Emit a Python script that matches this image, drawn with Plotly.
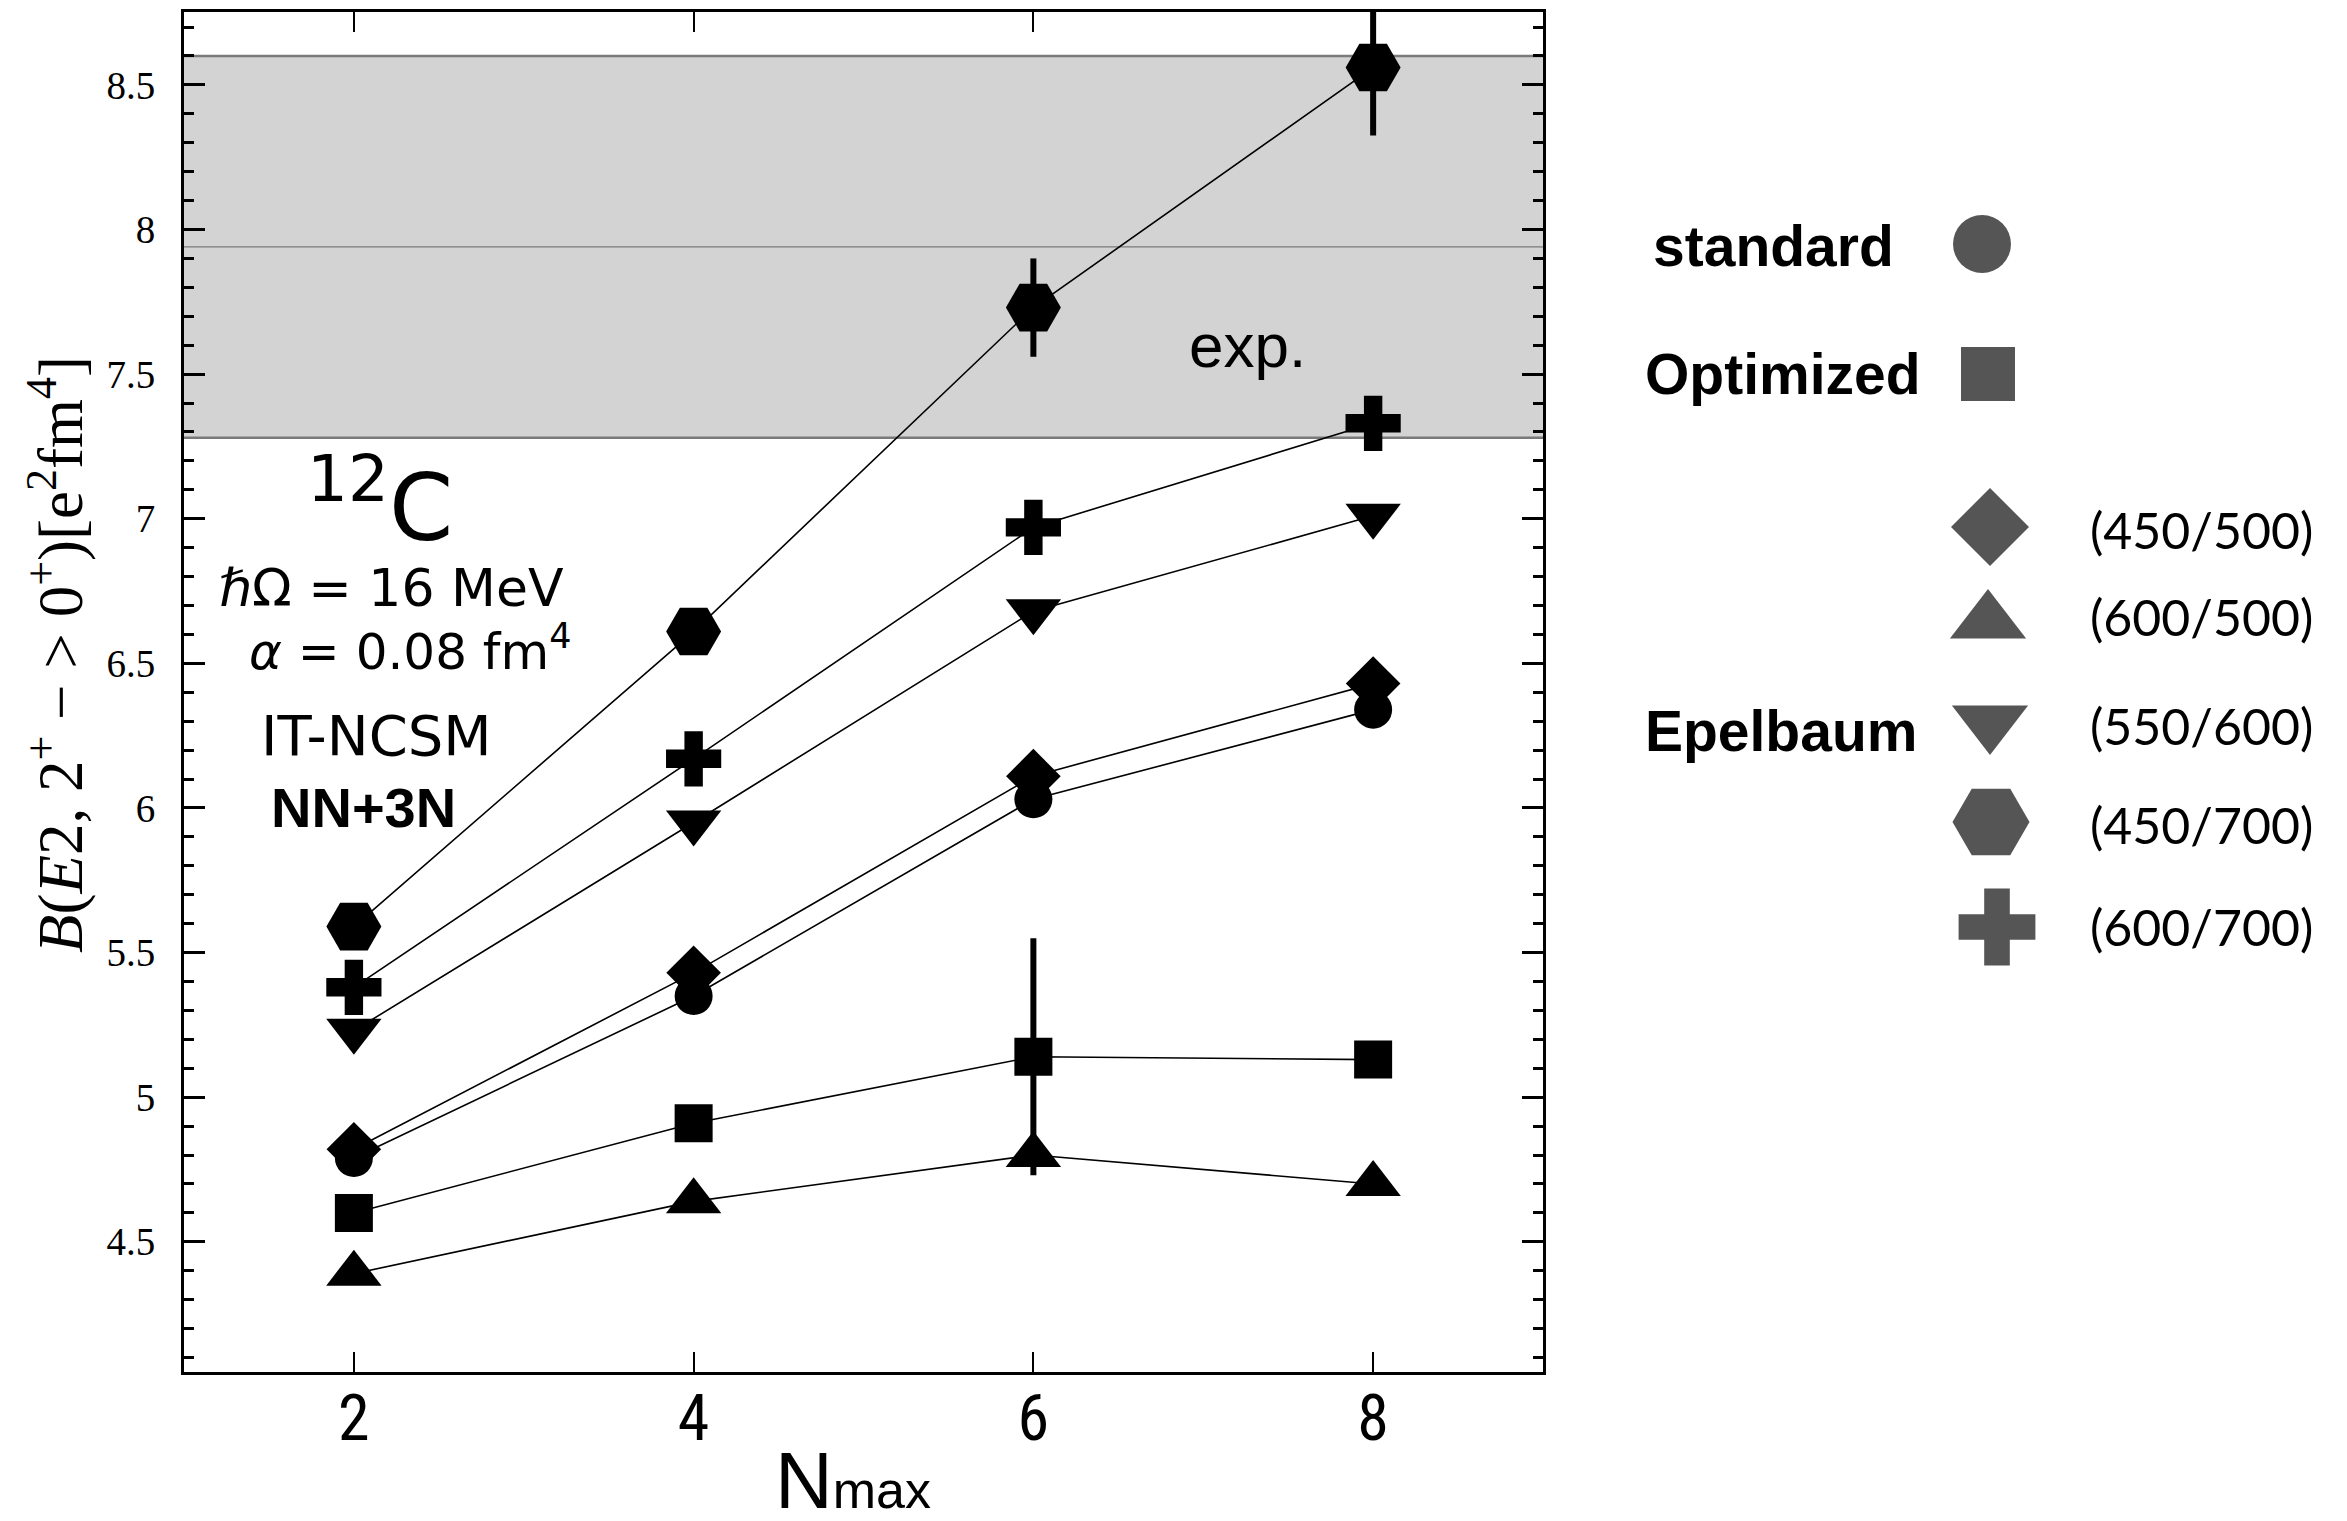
import plotly.graph_objects as go

# N_max truncation values
nmax = [2, 4, 6, 8]

# B(E2; 2+ -> 0+) in e^2 fm^4 for each interaction
standard = [4.79, 5.35, 6.03, 6.34]
optimized = [4.60, 4.91, 5.14, 5.13]
epel_450_500 = [4.82, 5.43, 6.11, 6.43]
epel_600_500 = [4.39, 4.64, 4.80, 4.70]
epel_550_600 = [5.23, 5.95, 6.68, 7.01]
epel_450_700 = [5.59, 6.61, 7.73, 8.56]
epel_600_700 = [5.38, 6.17, 6.97, 7.33]

# extrapolation uncertainties (zero where none is shown)
err_optimized = [0, 0, 0.41, 0]
err_450_700 = [0, 0, 0.17, 0.235]

# experimental value and its uncertainty
exp_value = 7.94
exp_error = 0.66

legend_groups = ["standard", "Optimized", "Epelbaum"]
epel_labels = ["(450/500)", "(600/500)", "(550/600)", "(450/700)", "(600/700)"]

W, H = 2347, 1521
ML, MR, MT, MB = 184, 0, 12, 149
plot_w = W - ML - MR
main_frac = 1359 / plot_w

fig = go.Figure()

# experimental band
fig.add_shape(type="rect", xref="x", yref="y", x0=1, x1=9,
              y0=exp_value - exp_error, y1=exp_value + exp_error,
              fillcolor="#d3d3d3", line_width=0, layer="below")
for yv, w in [(exp_value - exp_error, 2.4), (exp_value + exp_error, 2.4), (exp_value, 1.4)]:
    fig.add_shape(type="line", xref="x", yref="y", x0=1, x1=9, y0=yv, y1=yv,
                  line=dict(color="#7a7a7a", width=w), layer="below")

series = [
    (optimized, "square", 38, err_optimized),
    (epel_600_500, "triangle-up", 48, None),
    (standard, "circle", 38, None),
    (epel_450_500, "diamond", 42, None),
    (epel_550_600, "triangle-down", 48, None),
    (epel_600_700, "cross", 46, None),
    (epel_450_700, "hexagon2", 55, err_450_700),
]
for vals, sym, size, err in series:
    tr = go.Scatter(x=nmax, y=vals, mode="lines+markers",
                    line=dict(color="black", width=1.6),
                    marker=dict(symbol=sym, size=size, color="black", line_width=0),
                    showlegend=False, xaxis="x", yaxis="y")
    if err is not None:
        tr.error_y = dict(type="data", array=err, visible=True, thickness=6,
                          width=0, color="black")
    fig.add_trace(tr)

# hand-built key on an auxiliary pixel-scaled axis pair
key_markers = [
    ("circle", 58, 1982, 244),
    ("square", 54, 1988, 374),
    ("diamond", 60, 1990, 527),
    ("triangle-up", 66, 1988, 622),
    ("triangle-down", 66, 1990, 722),
    ("hexagon2", 77, 1991, 822),
    ("cross", 64, 1997, 927),
]
for sym, size, kx, ky in key_markers:
    fig.add_trace(go.Scatter(x=[kx], y=[ky], mode="markers",
                             marker=dict(symbol=sym, size=size, color="#555555", line_width=0),
                             showlegend=False, xaxis="x2", yaxis="y2", hoverinfo="skip"))

annotations = []
for txt, kx, ky in zip(legend_groups, [1651, 1643, 1643], [246, 374, 731]):
    annotations.append(dict(text=f"<b>{txt}</b>", x=kx, y=ky, xref="x2", yref="y2",
                            xanchor="left", yanchor="middle", showarrow=False,
                            font=dict(family="Liberation Sans, Arial", size=57, color="black")))
for txt, ky in zip(epel_labels, [530, 617, 726, 825, 927]):
    annotations.append(dict(text=txt, x=2088, y=ky, xref="x2", yref="y2",
                            xanchor="left", yanchor="middle", showarrow=False,
                            font=dict(family="Lato, Open Sans", size=50, color="black")))

# in-plot labels
math_font = "DejaVu Sans"
annotations += [
    dict(text="<sup>12</sup>C", x=2.154, y=7.06, font=dict(family=math_font, size=92)),
    dict(text="<i>ℏ</i>Ω = 16 MeV", x=2.224, y=6.76, font=dict(family=math_font, size=52)),
    dict(text="<i>α</i> = 0.08 fm<sup>4</sup>", x=2.33, y=6.55, font=dict(family=math_font, size=50)),
    dict(text="IT-NCSM", x=2.136, y=6.25, font=dict(family=math_font, size=56)),
    dict(text="<b>NN+3N</b>", x=2.054, y=6.0, font=dict(family="Liberation Sans, Arial", size=56)),
    dict(text="exp.", x=7.26, y=7.60, font=dict(family="Liberation Sans, Arial", size=62)),
]
for a in annotations[-6:]:
    a.update(xref="x", yref="y", showarrow=False, xanchor="center", yanchor="middle")
    a["font"]["color"] = "black"

# axis titles
annotations.append(dict(
    text="<i>B</i>(<i>E</i>2, 2<sup>+</sup> − > 0<sup>+</sup>)[e<sup>2</sup>fm<sup>4</sup>]",
    xref="paper", yref="paper", x=(56 - ML) / plot_w, y=(1372 - 655) / 1360,
    textangle=-90, showarrow=False, xanchor="center", yanchor="middle",
    font=dict(family="Liberation Serif, Times New Roman", size=63, color="black")))
annotations.append(dict(
    text="N<span style='font-size:52px'>max</span>", xref="x", yref="paper",
    x=4.94, y=(1372 - 1480) / 1360,
    showarrow=False, xanchor="center", yanchor="middle",
    font=dict(family="Liberation Sans, Arial", size=80, color="black")))

fig.update_layout(
    width=W, height=H,
    margin=dict(l=ML, r=MR, t=MT, b=MB, pad=0),
    paper_bgcolor="white", plot_bgcolor="white",
    annotations=annotations,
    xaxis=dict(domain=[0, main_frac], range=[1, 9], tickvals=nmax,
               ticks="inside", ticklen=20, tickwidth=2, tickcolor="black",
               showline=True, linewidth=3, linecolor="black", mirror="allticks",
               showgrid=False, zeroline=False, ticklabelstandoff=-12,
               tickfont=dict(family="Liberation Sans Narrow, Roboto Condensed, Roboto", size=64, color="black")),
    yaxis=dict(range=[4.05, 8.752], tick0=4.5, dtick=0.5,
               ticks="inside", ticklen=21, tickwidth=3, tickcolor="black",
               minor=dict(dtick=0.1, tick0=4.5, ticks="inside", ticklen=10, tickwidth=3,
                          tickcolor="black", showgrid=False),
               showline=True, linewidth=3, linecolor="black", mirror="allticks",
               showgrid=False, zeroline=False, ticklabelstandoff=18,
               tickfont=dict(family="Liberation Serif, Times New Roman", size=39, color="black")),
    xaxis2=dict(domain=[0.66, 1], range=[ML + 0.66 * plot_w, W], visible=False, anchor="y2"),
    yaxis2=dict(domain=[0, 1], range=[1372, 12], visible=False, anchor="x2"),
)

fig.write_html("out.html")
